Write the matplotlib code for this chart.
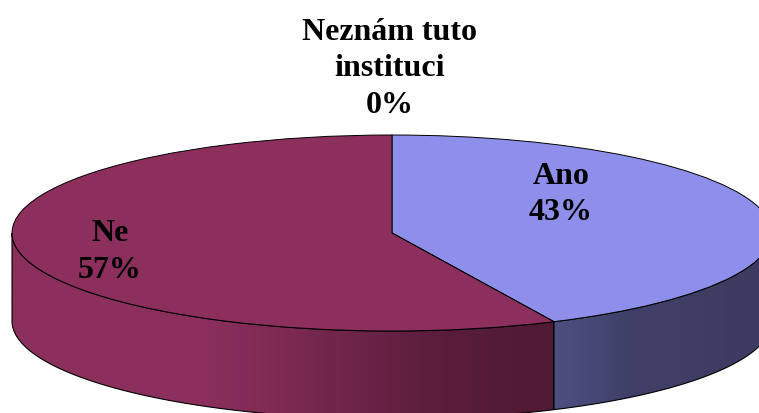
#!/usr/bin/env python3
import numpy as np
import matplotlib
matplotlib.use('Agg')
import matplotlib.pyplot as plt
from matplotlib.colors import LinearSegmentedColormap
from matplotlib.patches import Polygon

labels = ['Ano', 'Neznám tuto\ninstituci', 'Ne']
values = [43, 0, 57]
colors = ['#8e8feb', '#f8f8c0', '#8c2f5d']

W, H = 759, 414
cx, cy = 392, 234    # pie centre in pixels
rx, ry = 380, 98     # ellipse radii
depth = 88 / ry      # side height in y units

# where the labels sit, pixels
label_pos = [(561, 194.5), (390, 69), (110, 252)]

fig = plt.figure(figsize=(W / 100, H / 100), dpi=100)
ax = fig.add_axes([0, 0, 1, 1])


def side(theta0, theta1, stops):
    # visible rim of a slice, angles clockwise from the top of the pie
    t = np.radians(np.linspace(theta0, theta1, 200))
    x, y = np.sin(t), np.cos(t)
    pts = np.r_[np.c_[x, y], np.c_[x, y - depth][::-1]]
    cmap = LinearSegmentedColormap.from_list('s', stops)
    im = ax.imshow(np.linspace(0, 1, 256)[None, :], cmap=cmap, aspect='auto', zorder=1,
                   extent=(x.min(), x.max(), (cy - H) / ry, cy / ry))
    poly = Polygon(pts, closed=True, fc='none', ec='black', lw=0.8, zorder=2)
    ax.add_patch(poly)
    im.set_clip_path(poly)


wedges, _ = ax.pie(values, colors=colors, startangle=90, counterclock=False, radius=1,
                   wedgeprops=dict(edgecolor='black', linewidth=0.7))
for w in wedges:
    w.set_zorder(3)
ax.set_aspect('auto')

# rim only shows on the front half, so cut the angles at 90 and 270
split = 360 * values[0] / sum(values)
side(90, split, [(0, '#4d5080'), (0.35, '#3f3f68'), (1, '#3c3c62')])
side(split, 270, [(0, '#8c2f5d'), (0.35, '#8b2f5c'), (0.5, '#7d2a53'),
                  (0.65, '#6b2347'), (0.8, '#591d3a'), (1, '#4f1a33')])

ax.set_xlim((0 - cx) / rx, (W - cx) / rx)
ax.set_ylim((cy - H) / ry, cy / ry)
ax.axis('off')

for lab, val, (px, py) in zip(labels, values, label_pos):
    fig.text(px / W, 1 - py / H, f'{lab}\n{val}%', ha='center', va='center', ma='center',
             family='Liberation Serif', weight='bold', fontsize=23, linespacing=1.36, color='black')

fig.savefig('out.png', dpi=100)
